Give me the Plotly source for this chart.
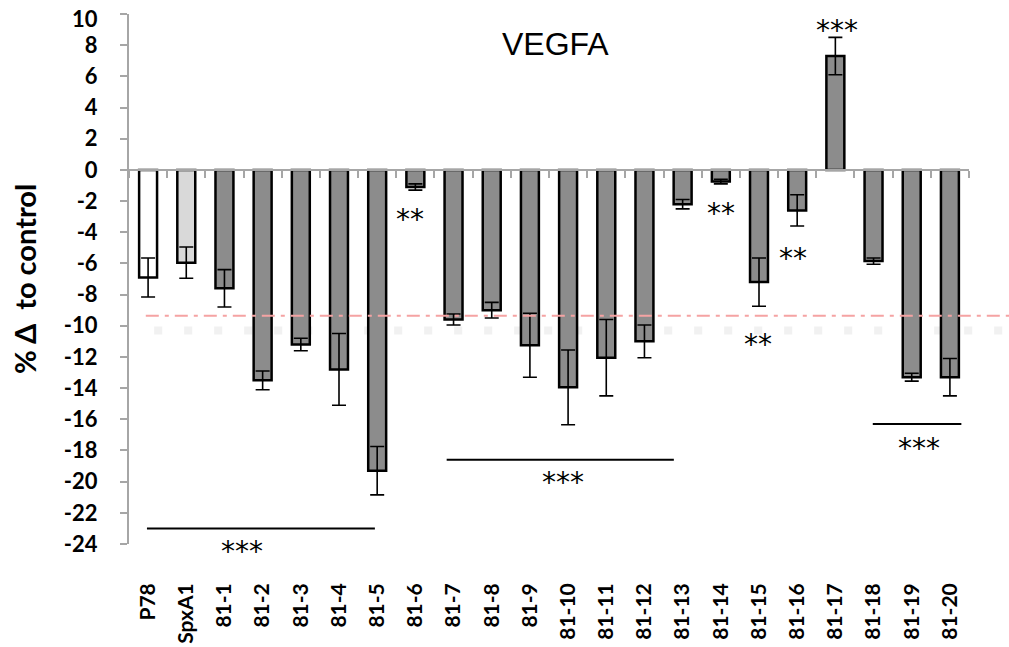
import plotly.graph_objects as go

categories = ["P78", "SpxA1", "81-1", "81-2", "81-3", "81-4", "81-5", "81-6", "81-7", "81-8",
              "81-9", "81-10", "81-11", "81-12", "81-13", "81-14", "81-15", "81-16", "81-17",
              "81-18", "81-19", "81-20"]
values = [-6.9, -5.95, -7.6, -13.5, -11.2, -12.8, -19.3, -1.1, -9.6, -9.0,
          -11.25, -13.95, -12.05, -11.0, -2.2, -0.75, -7.2, -2.6, 7.3,
          -5.85, -13.3, -13.3]
errors = [1.25, 1.0, 1.2, 0.6, 0.4, 2.3, 1.55, 0.2, 0.35, 0.5,
          2.05, 2.4, 2.45, 1.05, 0.3, 0.15, 1.55, 1.0, 1.2,
          0.2, 0.25, 1.2]
colors = ["#ffffff", "#d9d9d9"] + ["#8c8c8c"] * 20
y_ticks = list(range(-24, 11, 2))

threshold = -9.35
shadow_level = -10.3

# significance brackets: (x start index, x end index, y)
brackets = [(-0.03, 5.94, -23.0), (7.82, 13.77, -18.6), (18.98, 21.3, -16.3)]
# star labels: (x index, y, text)
stars = [(2.46, -24.1, "***"), (10.86, -19.7, "***"), (20.2, -17.5, "***"),
         (6.86, -2.8, "**"), (15.0, -2.4, "**"), (15.97, -10.8, "**"),
         (16.9, -5.3, "**"), (18.03, 9.3, "***")]

ymin, ymax = -24, 10
n = len(categories)

W, H = 1009, 647
ML, MR, MT, MB = 129, 40, 14, 103
PW, PH = W - ML - MR, H - MT - MB

tick_font = dict(family="Lato, Open Sans", size=22, color="black", weight="bold")

fig = go.Figure()
fig.add_trace(go.Bar(
    x=list(range(n)), y=values,
    marker=dict(color=colors, line=dict(color="black", width=2.5)),
    width=0.47,
    error_y=dict(type="data", array=errors, visible=True, color="black",
                 thickness=1.6, width=7),
    showlegend=False, hoverinfo="skip",
))

# invisible trace for the zero-line axis (x2)
fig.add_trace(go.Scatter(x=list(range(n)), y=[0] * n, xaxis="x2", mode="markers",
                         marker=dict(opacity=0), showlegend=False, hoverinfo="skip"))

# faint shadow dotted band
fig.add_shape(type="line", xref="paper", yref="y", x0=0.03, x1=1.05,
              y0=shadow_level, y1=shadow_level,
              line=dict(color="rgba(228,228,228,0.5)", width=8, dash="8px,22px"),
              layer="below")
# threshold dash-dot line
fig.add_shape(type="line", xref="paper", yref="y", x0=0.02, x1=1 + MR / PW,
              y0=threshold, y1=threshold,
              line=dict(color="#f5a3a3", width=2, dash="13px,6px,4px,6px"))

for x0, x1, y in brackets:
    fig.add_shape(type="line", xref="x", yref="y", x0=x0, x1=x1, y0=y, y1=y,
                  line=dict(color="black", width=2))

for x, y, t in stars:
    fig.add_annotation(x=x, y=(y - ymin) / (ymax - ymin), text=t, showarrow=False,
                       xref="x", yref="paper", xanchor="center", yanchor="middle",
                       yshift=-6,
                       font=dict(family="DejaVu Sans", size=28, color="black"))

fig.add_annotation(x=(555 - ML) / PW, y=1 - (44 - MT) / PH, xref="paper", yref="paper",
                   text="VEGFA", showarrow=False, xanchor="center", yanchor="middle",
                   font=dict(family="Liberation Sans, Arial", size=32, color="black"))

fig.add_annotation(x=0, y=0.5, xref="paper", yref="paper", text="% Δ  to control",
                   showarrow=False, textangle=-90, xanchor="center", yanchor="middle",
                   xshift=-105,
                   font=dict(family="Lato, Open Sans", size=29, color="black", weight="bold"))

# top tick label (drawn slightly lower, as in the reference, so it stays inside the page)
fig.add_annotation(x=0, y=1 - 4 / PH, xref="paper", yref="paper", text=str(y_ticks[-1]),
                   showarrow=False, xanchor="right", yanchor="middle", xshift=-29,
                   font=tick_font)

zero_pos = (0 - ymin) / (ymax - ymin)

fig.update_layout(
    width=W, height=H,
    margin=dict(l=ML, r=MR, t=MT, b=MB),
    plot_bgcolor="white", paper_bgcolor="white",
    xaxis=dict(tickmode="array", tickvals=list(range(n)), ticktext=categories,
               range=[-0.5, n - 0.5], tickangle=-90, showline=False, showgrid=False,
               zeroline=False, ticks="", ticklabelstandoff=34, automargin=False,
               tickfont=dict(family="Lato, Open Sans", size=21, color="black", weight="bold")),
    xaxis2=dict(overlaying="x", anchor="free", position=zero_pos, range=[-0.5, n - 0.5],
                showline=True, linecolor="#a6a6a6", linewidth=2, showgrid=False,
                zeroline=False, showticklabels=False, ticks="outside", ticklen=7,
                tickwidth=2, tickcolor="#a6a6a6", automargin=False,
                tickmode="array", tickvals=[i + 0.5 for i in range(-1, n)]),
    yaxis=dict(range=[ymin, ymax], tickmode="array", tickvals=y_ticks,
               ticktext=[str(v) for v in y_ticks[:-1]] + [""],
               showline=True, linecolor="#a6a6a6", linewidth=2, showgrid=False,
               zeroline=False, ticks="outside", ticklen=7, tickwidth=2, tickcolor="#a6a6a6",
               ticklabelstandoff=18, automargin=False,
               tickfont=tick_font),
)

fig.write_html("out.html", config={"displayModeBar": False},
               post_script="document.body.style.margin='0px';"
                           "document.body.style.overflow='hidden';")
